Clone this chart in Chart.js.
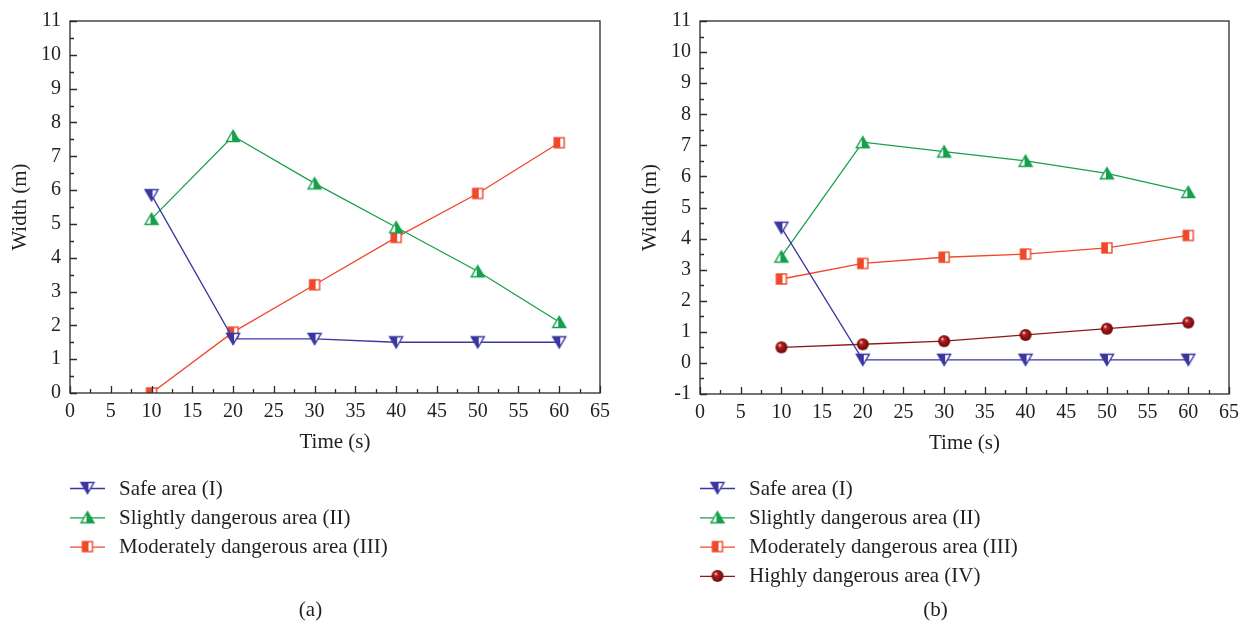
<!DOCTYPE html>
<html><head><meta charset="utf-8">
<script src="https://cdn.jsdelivr.net/npm/chart.js@4"></script>
<style>
body{margin:0;background:#fff;width:1250px;height:631px;overflow:hidden;display:flex}
.w{position:relative;width:625px;height:631px}
</style>
</head><body>
<div class="w"><canvas id="ca" width="625" height="631"></canvas></div>
<div class="w"><canvas id="cb" width="625" height="631"></canvas></div>
<script>
// ---- data ----
const timeS = [10, 20, 30, 40, 50, 60];
const xTicks = [0,5,10,15,20,25,30,35,40,45,50,55,60,65];
// (a)
const safeA = [5.85, 1.6, 1.6, 1.5, 1.5, 1.5];
const slightA = [5.15, 7.6, 6.2, 4.9, 3.6, 2.1];
const moderateA = [0, 1.8, 3.2, 4.6, 5.9, 7.4];
// (b)
const safeB = [4.35, 0.1, 0.1, 0.1, 0.1, 0.1];
const slightB = [3.42, 7.1, 6.8, 6.5, 6.1, 5.5];
const moderateB = [2.7, 3.2, 3.4, 3.5, 3.7, 4.1];
const highB = [0.5, 0.6, 0.7, 0.9, 1.1, 1.3];

const labels = ['Safe area (I)', 'Slightly dangerous area (II)', 'Moderately dangerous area (III)', 'Highly dangerous area (IV)'];
const panelLabels = ['(a)', '(b)'];

const C_BLUE = '#3b37a0', C_GREEN = '#17a04b', C_RED = '#f0482a', C_DRED = '#8d1a1a';
const TXT = '#231f20', AX = '#2a2a2a';
const FONT = '"Liberation Serif", "DejaVu Serif", serif';

// ---- marker images ----
function marker(kind, color) {
  const s = 18, c = document.createElement('canvas');
  c.width = s; c.height = s;
  const g = c.getContext('2d');
  const cx = s / 2, cy = s / 2;
  g.lineWidth = 1.4; g.strokeStyle = color; g.lineJoin = 'miter';
  if (kind === 'down' || kind === 'up') {
    const w = 13, h = 11;
    const pts = kind === 'down'
      ? [[cx - w/2, cy - h/2], [cx + w/2, cy - h/2], [cx, cy + h/2]]
      : [[cx - w/2, cy + h/2], [cx + w/2, cy + h/2], [cx, cy - h/2]];
    const path = () => { g.beginPath(); g.moveTo(...pts[0]); g.lineTo(...pts[1]); g.lineTo(...pts[2]); g.closePath(); };
    path(); g.fillStyle = '#fff'; g.fill();
    g.save(); path(); g.clip();
    g.fillStyle = color;
    if (kind === 'down') g.fillRect(0, 0, cx + 1, s); else g.fillRect(cx - 1, 0, s, s);
    g.restore();
    path(); g.stroke();
  } else if (kind === 'square') {
    const a = 10;
    g.fillStyle = '#fff'; g.fillRect(cx - a/2, cy - a/2, a, a);
    g.fillStyle = color; g.fillRect(cx - a/2, cy - a/2, a/2 + 1, a);
    g.strokeRect(cx - a/2, cy - a/2, a, a);
  } else if (kind === 'sphere') {
    const r = 6;
    const gr = g.createRadialGradient(cx - 2, cy - 2.5, 0.3, cx, cy, r);
    gr.addColorStop(0, '#f6d0d0'); gr.addColorStop(0.3, '#b52020'); gr.addColorStop(1, '#6b0505');
    g.beginPath(); g.arc(cx, cy, r, 0, Math.PI * 2); g.fillStyle = gr; g.fill();
  }
  return c;
}

function ds(label, vals, color, kind) {
  return {
    label, data: timeS.map((t, i) => ({x: t, y: vals[i]})),
    borderColor: color, backgroundColor: color, borderWidth: 1.3,
    pointStyle: marker(kind, color), pointRadius: 7, pointHoverRadius: 7,
    tension: 0, fill: false
  };
}

const deco = {
  id: 'deco',
  afterDraw(chart, args, o) {
    const {ctx, chartArea: a, scales: {x, y}} = chart;
    ctx.save();
    ctx.strokeStyle = AX; ctx.lineWidth = 1.3;
    ctx.strokeRect(a.left, a.top, a.right - a.left, a.bottom - a.top);
    ctx.beginPath();
    for (let v = y.min; v <= y.max + 1e-9; v += 0.5) {
      const py = Math.round(y.getPixelForValue(v)) + 0.5;
      const len = Math.abs(v - Math.round(v)) < 1e-9 ? 7 : 4;
      ctx.moveTo(a.left, py); ctx.lineTo(a.left + len, py);
    }
    for (let v = x.min; v <= x.max + 1e-9; v += 2.5) {
      const px = Math.round(x.getPixelForValue(v)) + 0.5;
      const len = Math.abs(v / 5 - Math.round(v / 5)) < 1e-9 ? 7 : 4;
      ctx.moveTo(px, a.bottom); ctx.lineTo(px, a.bottom - len);
    }
    ctx.stroke();
    // legend
    ctx.font = '21px ' + FONT; ctx.fillStyle = TXT; ctx.textBaseline = 'middle'; ctx.textAlign = 'left';
    chart.data.datasets.forEach((d, i) => {
      const yy = o.legendTop + i * o.legendStep;
      ctx.strokeStyle = d.borderColor; ctx.lineWidth = 1.3;
      ctx.beginPath(); ctx.moveTo(a.left, yy + 0.5); ctx.lineTo(a.left + 35, yy + 0.5); ctx.stroke();
      const img = d.pointStyle;
      ctx.drawImage(img, a.left + 17.5 - img.width / 2, yy - img.height / 2);
      ctx.fillStyle = TXT;
      ctx.fillText(d.label, a.left + 49, yy + 1);
    });
    ctx.textAlign = 'center';
    ctx.fillText(o.panel, chart.width / 2 - 2, 610);
    ctx.restore();
  }
};

function make(id, datasets, ymin, ymax, leftW, padRight, bottomY, panel) {
  return new Chart(document.getElementById(id), {
    type: 'line',
    data: {datasets},
    plugins: [deco],
    options: {
      responsive: false, animation: false, events: [],
      layout: {padding: {left: 0, right: padRight, top: 14, bottom: 0}},
      plugins: {legend: {display: false}, tooltip: {enabled: false},
        deco: {legendTop: 488, legendStep: 29.3, panel}},
      scales: {
        x: {
          type: 'linear', min: 0, max: 65,
          afterBuildTicks: s => { s.ticks = xTicks.map(v => ({value: v})); },
          afterFit: s => { s.height = 631 - bottomY; },
          grid: {display: false, drawTicks: false},
          border: {display: false},
          ticks: {padding: 7, color: TXT, font: {family: FONT, size: 20}, maxRotation: 0, autoSkip: false},
          title: {display: true, text: 'Time (s)', color: TXT, font: {family: FONT, size: 21},
            padding: {top: 0, bottom: 631 - bottomY - 49 - 12.6}}
        },
        y: {
          min: ymin, max: ymax,
          afterFit: s => { s.width = leftW; },
          grid: {display: false, drawTicks: false},
          border: {display: false},
          ticks: {stepSize: 1, padding: 9, color: TXT, font: {family: FONT, size: 20}, autoSkip: false},
          title: {display: true, text: 'Width (m)', color: TXT, font: {family: FONT, size: 21},
            padding: {top: leftW - 50 - 12.6, bottom: 0}}
        }
      }
    }
  });
}

make('ca', [
  ds(labels[0], safeA, C_BLUE, 'down'),
  ds(labels[1], slightA, C_GREEN, 'up'),
  ds(labels[2], moderateA, C_RED, 'square')
], 0, 11, 70, 25, 393, panelLabels[0]);

make('cb', [
  ds(labels[0], safeB, C_BLUE, 'down'),
  ds(labels[1], slightB, C_GREEN, 'up'),
  ds(labels[2], moderateB, C_RED, 'square'),
  ds(labels[3], highB, C_DRED, 'sphere')
], -1, 11, 75, 21, 394, panelLabels[1]);
</script>
</body></html>
